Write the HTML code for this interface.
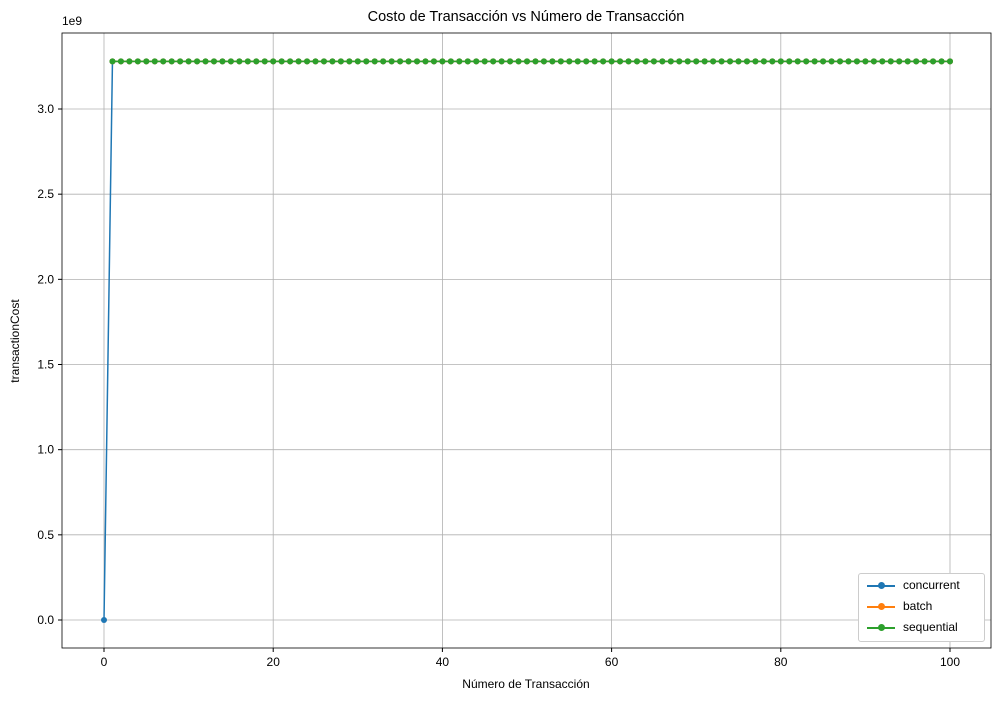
<!DOCTYPE html>
<html><head><meta charset="utf-8"><style>body{margin:0;background:#fff}svg{display:block;font-family:"Liberation Sans","DejaVu Sans",sans-serif}</style></head>
<body>
<svg id="chart" width="1001" height="701"></svg>
<script>
const xTicks=[0,20,40,60,80,100];
const yTicks=[0,0.5,1.0,1.5,2.0,2.5,3.0];
const yTickLabels=["0.0","0.5","1.0","1.5","2.0","2.5","3.0"];
const concurrentX=[];const concurrentY=[];
const batchX=[];const batchY=[];
const sequentialX=[];const sequentialY=[];
concurrentX.push(0);concurrentY.push(0);
for(let i=1;i<=100;i++){concurrentX.push(i);concurrentY.push(3.28);batchX.push(i);batchY.push(3.28);sequentialX.push(i);sequentialY.push(3.28);}
const L=62,R=991,T=33,B=648;
const xs=v=>104+(v-0)*(950-104)/100;
const ys=v=>620-v*170.33;
const svg=document.getElementById('chart');const NS='http://www.w3.org/2000/svg';
function mk(t,a,txt){const e=document.createElementNS(NS,t);for(const k in a)e.setAttribute(k,a[k]);if(txt!==undefined)e.textContent=txt;svg.appendChild(e);return e;}
// grid
xTicks.forEach(v=>{const g=mk('line',{x1:xs(v),x2:xs(v),y1:T,y2:B,stroke:'#b0b0b0','stroke-width':0.8});


mk('line',{x1:xs(v),x2:xs(v),y1:B,y2:B+4,stroke:'#000'});
const t=mk('text',{x:xs(v),y:B+18,'text-anchor':'middle','font-size':12},String(v));

});
yTicks.forEach((v,i)=>{const g=mk('line',{x1:L,x2:R,y1:ys(v),y2:ys(v),stroke:'#b0b0b0','stroke-width':0.8});


mk('line',{x1:L-4,x2:L,y1:ys(v),y2:ys(v),stroke:'#000'});
const t=mk('text',{x:L-8,y:ys(v)+4,'text-anchor':'end','font-size':12},yTickLabels[i]);

});
function series(xa,ya,c,name){const p=xa.map((x,i)=>xs(x)+','+ys(ya[i])).join(' ');
const pl=mk('polyline',{points:p,fill:'none',stroke:c,'stroke-width':1.5});


xa.forEach((x,i)=>{const m=mk('circle',{cx:xs(x),cy:ys(ya[i]),r:3,fill:c});

});}
series(concurrentX,concurrentY,'#1f77b4','concurrent');
series(batchX,batchY,'#ff7f0e','batch');
series(sequentialX,sequentialY,'#2ca02c','sequential');
const fr=mk('rect',{x:L,y:T,width:R-L,height:B-T,fill:'none',stroke:'#000','stroke-width':0.8});


</script>
<svg width="0" height="0"></svg>
<div style="position:absolute;left:0;top:0;width:1001px;height:701px;pointer-events:none;font-family:'Liberation Sans','DejaVu Sans',sans-serif">
<div style="position:absolute;left:0;width:1052px;top:9px;text-align:center;font-size:14.5px">Costo de Transacción vs Número de Transacción</div>
<div style="position:absolute;left:0;width:1052px;top:677px;text-align:center;font-size:12px">Número de Transacción</div>
<div style="position:absolute;left:-35px;top:334px;width:100px;text-align:center;font-size:12px;transform:rotate(-90deg)">transactionCost</div>
<div style="position:absolute;left:62px;top:14px;font-size:12px">1e9</div>
<div style="position:absolute;left:858px;top:573px;width:125px;height:67px;border:1px solid #ccc;border-radius:3px;background:#fff;font-size:12px">
<div style="position:absolute;left:8px;top:4px"><span style="display:inline-block;width:28px;height:2px;background:#1f77b4;vertical-align:middle;position:relative;margin-right:8px"><span style="position:absolute;left:11px;top:-3px;width:7px;height:7px;border-radius:50%;background:#1f77b4"></span></span>concurrent</div>
<div style="position:absolute;left:8px;top:25px"><span style="display:inline-block;width:28px;height:2px;background:#ff7f0e;vertical-align:middle;position:relative;margin-right:8px"><span style="position:absolute;left:11px;top:-3px;width:7px;height:7px;border-radius:50%;background:#ff7f0e"></span></span>batch</div>
<div style="position:absolute;left:8px;top:46px"><span style="display:inline-block;width:28px;height:2px;background:#2ca02c;vertical-align:middle;position:relative;margin-right:8px"><span style="position:absolute;left:11px;top:-3px;width:7px;height:7px;border-radius:50%;background:#2ca02c"></span></span>sequential</div>
</div>
</div>
</body></html>
